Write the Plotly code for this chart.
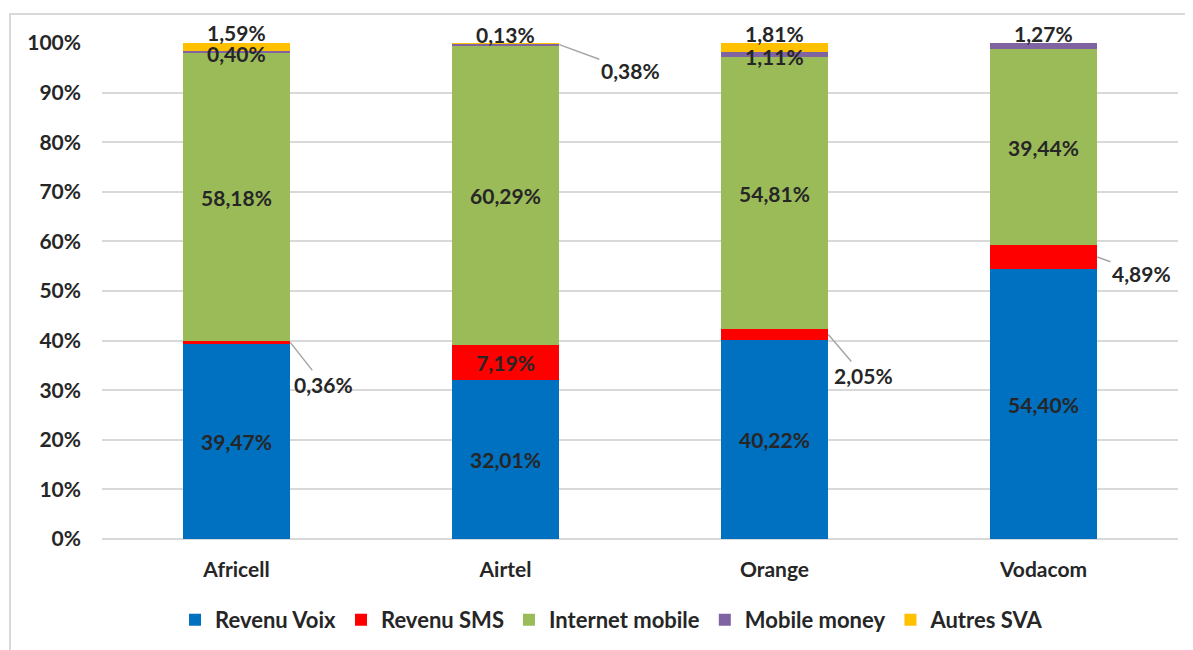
import plotly.graph_objects as go

operators = ["Africell", "Airtel", "Orange", "Vodacom"]
series_names = ["Revenu Voix", "Revenu SMS", "Internet mobile", "Mobile money", "Autres SVA"]
voix = [39.47, 32.01, 40.22, 54.40]
sms = [0.36, 7.19, 2.05, 4.89]
internet = [58.18, 60.29, 54.81, 39.44]
mobile_money = [0.40, 0.38, 1.11, 1.27]
autres = [1.59, 0.13, 1.81, 0.0]
y_ticks = [0, 10, 20, 30, 40, 50, 60, 70, 80, 90, 100]

colors = ["#0070C0", "#FF0000", "#9BBB59", "#8064A2", "#FFC000"]
all_series = [voix, sms, internet, mobile_money, autres]
TXT = "#262626"
FONT = "Lato"
FS = 21


def fmt(v):
    return f"{v:.2f}".replace(".", ",") + "%"


# which labels sit inside the segment
inside = [
    [True, True, True, True],
    [False, True, False, False],
    [True, True, True, True],
    [False, False, False, False],
    [False, False, False, False],
]

fig = go.Figure()
for name, vals, col, ins in zip(series_names, all_series, colors, inside):
    fig.add_trace(go.Bar(
        x=operators, y=vals, name=name, marker=dict(color=col, line=dict(width=0)),
        text=[fmt(v) if i else "" for v, i in zip(vals, ins)],
        textposition="inside", insidetextanchor="middle", textangle=0,
        constraintext="none",
        textfont=dict(family=FONT, size=FS, color=TXT, weight="bold"),
    ))

annotations = []
# labels near the top (no leader)
top_labels = [
    (0, autres, 0, 11),
    (0, mobile_money, 0, -10),
    (1, autres, 0, 9),
    (2, autres, 0, 10),
    (2, mobile_money, 0, -13),
    (3, mobile_money, 0, 10),
]
for idx, ser, xs, ys in top_labels:
    annotations.append(dict(
        x=operators[idx], y=100, text=fmt(ser[idx]), showarrow=False,
        xshift=xs, yshift=ys, yanchor="middle",
        font=dict(family=FONT, size=FS, color=TXT, weight="bold"),
    ))

# labels with leader lines (point at right edge of bar, middle of segment)
leader = [
    (0, 1, 33, 42),
    (2, 1, 35, 41),
    (3, 1, 44, 16),
    (1, 3, 71, 26),
]
for idx, si, ax, ay in leader:
    base = sum(all_series[k][idx] for k in range(si))
    mid = base + all_series[si][idx] / 2
    annotations.append(dict(
        x=idx + 0.2, y=mid, xref="x", yref="y", text=fmt(all_series[si][idx]),
        showarrow=True, arrowhead=0, arrowwidth=1.5, arrowcolor="#A6A6A6",
        ax=ax, ay=ay, standoff=0,
        font=dict(family=FONT, size=FS, color=TXT, weight="bold"),
    ))

fig.update_layout(
    barmode="stack",
    bargap=0.6,
    width=1193, height=650,
    margin=dict(l=94, r=23, t=35, b=119),
    paper_bgcolor="white", plot_bgcolor="white",
    separators=", ",
    font=dict(family=FONT, size=FS, color=TXT),
    showlegend=True,
    legend=dict(
        orientation="h", x=0.474, xanchor="center", y=-0.163, yanchor="middle",
        font=dict(family=FONT, size=22, color=TXT, weight="bold"),
        traceorder="normal",
    ),
    annotations=annotations,
    shapes=[dict(
        type="rect", xref="paper", yref="paper",
        x0=-0.0855, x1=1.05, y0=-0.3, y1=1.0585,
        line=dict(color="#D9D9D9", width=2), fillcolor="rgba(0,0,0,0)", layer="below",
    )],
)
fig.update_xaxes(
    type="category", showgrid=False, zeroline=False, showline=False,
    ticks="", ticklabelstandoff=16,
    tickfont=dict(family=FONT, size=FS, color=TXT, weight="bold"),
)
fig.update_yaxes(
    range=[0, 100], tickvals=y_ticks, ticktext=[f"{v}%" for v in y_ticks],
    showgrid=True, gridcolor="#D9D9D9", gridwidth=1.5, zeroline=True,
    zerolinecolor="#D9D9D9", zerolinewidth=1.5, showline=False, ticks="",
    ticklabelstandoff=20,
    tickfont=dict(family=FONT, size=FS, color=TXT, weight="bold"),
)

fig.write_html("out.html")
